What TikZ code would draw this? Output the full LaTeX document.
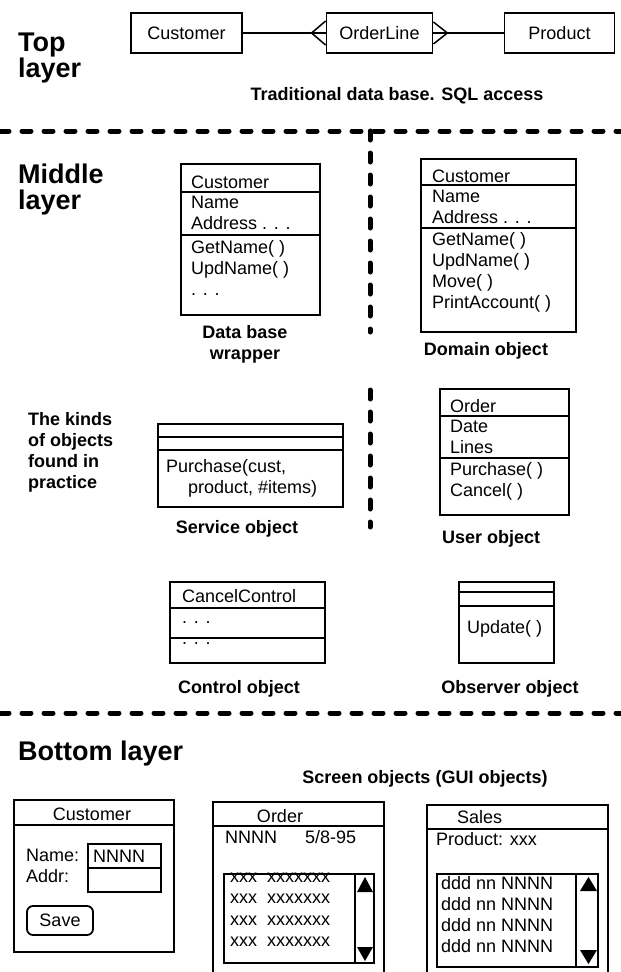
\documentclass[tikz,border=0pt]{standalone}
\usepackage{fontspec}
\setmainfont{Liberation Sans}
\usetikzlibrary{calc}
\tikzset{
  box/.style={draw,line width=1.8pt},
  member/.style={inner sep=0pt,anchor=base west},
  block/.style={inner sep=0pt,anchor=north west,align=left},
  kind/.style={inner sep=0pt,font=\fontsize{18}{21}\selectfont\bfseries},
  layertitle/.style={inner sep=0pt,anchor=north west,align=left,
    font=\fontsize{27}{26}\selectfont\bfseries},
  border/.style={line width=5pt,line cap=round,dash pattern=on 9pt off 13pt}
}

\begin{document}
\begin{tikzpicture}[x=1pt,y=-1pt,font=\fontsize{18}{21}\selectfont]
\useasboundingbox (0,0) rectangle (621,972);
\clip (0,0) rectangle (621,972);

% top layer
\node[layertitle] (toptitle) at (18,33) {Top\\layer};
\node[box,minimum width=111,minimum height=40] (cust) at (186.5,33) {Customer};
\node[box,minimum width=106,minimum height=40] (ol) at (379.5,33) {OrderLine};
\node[box,minimum width=110,minimum height=40] (prod) at (559.5,33) {Product};
\draw[line width=1.8pt] (cust) -- (ol);
\draw[line width=1.8pt] (ol) -- (prod);
\coordinate (crowL) at ($(ol.west)+(-14,0)$);
\coordinate (crowR) at ($(ol.east)+(14,0)$);
\draw[line width=1.5pt] ($(ol.west)+(0,-12)$) -- (crowL) -- ($(ol.west)+(0,12)$);
\draw[line width=1.5pt] ($(ol.east)+(0,-11)$) -- (crowR) -- ($(ol.east)+(0,11)$);
\node[kind,anchor=base] (sql) at (397,100) {Traditional data base. SQL access};

% separators
\draw[border] (0,131) -- (621,131);
\draw[border] (370,131) -- (370,332);
\draw[border] (370,390) -- (370,527);
\draw[border] (0,713) -- (621,713);

% middle layer
\node[layertitle] (midtitle) at (18,164) {Middle\\layer};

% data base wrapper
\draw[box] (181,164) rectangle (320,315);
\draw[box] (181,192) -- (320,192);
\draw[box] (181,235) -- (320,235);
\node[member] (dbname) at (191,188) {Customer};
\node[block] (dbattr) at (191,196) {Name\\Address . . .};
\node[block] (dbops) at (191,240) {GetName( )\\UpdName( )\\. . .};
\node[kind,anchor=north,align=center] (dbcap) at (245,325) {Data base\\wrapper};

% domain object
\draw[box] (421,159) rectangle (576,332);
\draw[box] (421,185) -- (576,185);
\draw[box] (421,228) -- (576,228);
\node[member] (domname) at (432,182) {Customer};
\node[block] (domattr) at (432,190) {Name\\Address . . .};
\node[block] (domops) at (432,232) {GetName( )\\UpdName( )\\Move( )\\PrintAccount( )};
\node[kind,anchor=base] (domcap) at (486,355) {Domain object};

\node[kind,anchor=north west,align=left] (kinds) at (28,412)
  {The kinds\\of objects\\found in\\practice};

% service object
\draw[box] (158,424) rectangle (343,507);
\draw[box] (158,437) -- (343,437);
\draw[box] (158,450) -- (343,450);
\node[block] (svcops) at (166,459) {Purchase(cust,\\\hspace*{22pt}product, \#items)};
\node[kind,anchor=base] (svccap) at (237,533) {Service object};

% user object
\draw[box] (440,389) rectangle (569,515);
\draw[box] (440,416) -- (569,416);
\draw[box] (440,458) -- (569,458);
\node[member] (usrname) at (450,412) {Order};
\node[block] (usrattr) at (450,420) {Date\\Lines};
\node[block] (usrops) at (450,462) {Purchase( )\\Cancel( )};
\node[kind,anchor=base west] (usrcap) at (442,543) {User object};

% control object
\draw[box] (170,582) rectangle (325,663);
\draw[box] (170,608) -- (325,608);
\draw[box] (170,638) -- (325,638);
\node[member] (ctlname) at (182,602) {CancelControl};
\node[member] (ctlattr) at (182,623) {. . .};
\node[member] (ctlops) at (182,644) {. . .};
\node[kind,anchor=base] (ctlcap) at (239,693) {Control object};

% observer object
\draw[box] (459,582) rectangle (554,663);
\draw[box] (459,592) -- (554,592);
\draw[box] (459,606) -- (554,606);
\node[member] (obsops) at (467,633) {Update( )};
\node[kind,anchor=base] (obscap) at (510,693) {Observer object};

% bottom layer
\node[layertitle,anchor=base west] (bottitle) at (18,760) {Bottom layer};
\node[kind,anchor=base] (gui) at (425,783) {Screen objects (GUI objects)};

% customer window
\draw[box] (14,800) rectangle (174,952);
\draw[box] (14,825) -- (174,825);
\node[anchor=base,inner sep=0pt] (wcust) at (92,820) {Customer};
\node[member] (wname) at (26,861) {Name:};
\node[member] (waddr) at (26,882) {Addr:};
\draw[box] (88,844) rectangle (161,892);
\draw[box] (88,868) -- (161,868);
\node[member] (wnameval) at (93,862) {NNNN};
\draw[box,rounded corners=6pt] (27,906) rectangle (93,935);
\node[anchor=base,inner sep=0pt] (wsave) at (60,926) {Save};

% order window
\draw[box] (213,802) rectangle (384,990);
\draw[box] (213,826) -- (384,826);
\node[anchor=base,inner sep=0pt] (word) at (280,822) {Order};
\node[member] (wordhead) at (225,843) {NNNN\hspace{28pt}5/8-95};
\draw[box] (224,874) rectangle (374,963);
\draw[box] (355,874) -- (355,963);
\fill (357,892) -- (373,892) -- (365,877) -- cycle;
\fill (357,947) -- (373,947) -- (365,961) -- cycle;
\node[member] (ordrow1) at (230,882) {xxx\ \ xxxxxxx};
\node[member] (ordrow2) at (230,903) {xxx\ \ xxxxxxx};
\node[member] (ordrow3) at (230,925) {xxx\ \ xxxxxxx};
\node[member] (ordrow4) at (230,946) {xxx\ \ xxxxxxx};

% sales window
\draw[box] (427,805) rectangle (608,990);
\draw[box] (427,829) -- (608,829);
\node[member] (wsales) at (457,823) {Sales};
\node[member] (wprod) at (436,845) {Product: xxx};
\draw[box] (437,874) rectangle (598,967);
\draw[box] (576,874) -- (576,967);
\fill (580,891) -- (597,891) -- (588.5,877) -- cycle;
\fill (580,950) -- (597,950) -- (588.5,964) -- cycle;
\node[member] (salrow1) at (441,889) {ddd nn NNNN};
\node[member] (salrow2) at (441,910) {ddd nn NNNN};
\node[member] (salrow3) at (441,931) {ddd nn NNNN};
\node[member] (salrow4) at (441,952) {ddd nn NNNN};
\end{tikzpicture}
\end{document}
